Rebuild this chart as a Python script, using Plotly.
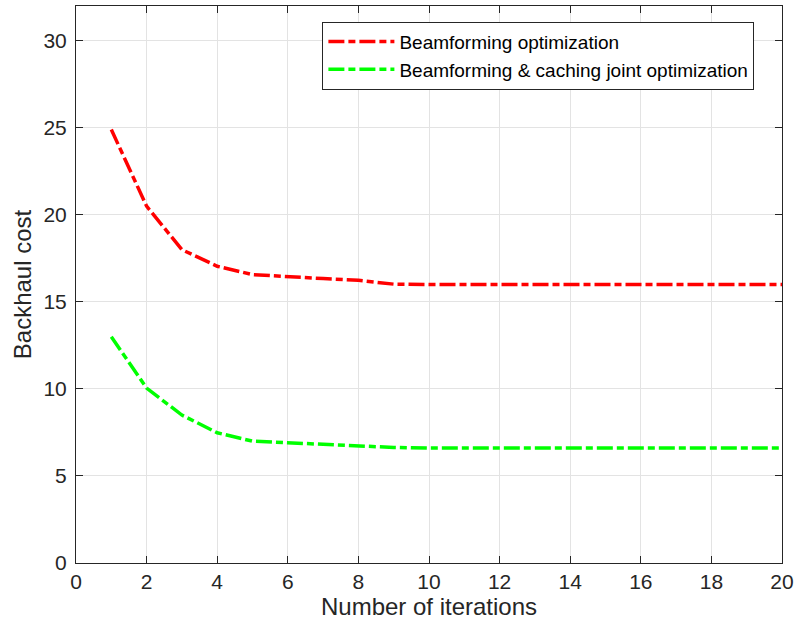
import plotly.graph_objects as go

iterations = list(range(1, 21))
beamforming = [24.9, 20.5, 18.0, 17.05, 16.57, 16.44, 16.34, 16.24, 16.02, 16.0,
               16.0, 16.0, 16.0, 16.0, 16.0, 16.0, 16.0, 16.0, 16.0, 16.0]
joint = [13.0, 10.05, 8.5, 7.48, 7.0, 6.9, 6.81, 6.71, 6.64, 6.6,
         6.6, 6.6, 6.6, 6.6, 6.6, 6.6, 6.6, 6.6, 6.6, 6.6]
names = ["Beamforming optimization", "Beamforming &amp; caching joint optimization"]
x_ticks = list(range(0, 21, 2))
y_ticks = list(range(0, 31, 5))

FONT = "Liberation Sans, Arial"
dash = "16px,4px,7px,4px"
fig = go.Figure()
fig.add_trace(go.Scatter(x=iterations, y=beamforming, mode="lines", name=names[0],
                         line=dict(color="#ff0000", width=3.5, dash=dash)))
fig.add_trace(go.Scatter(x=iterations, y=joint, mode="lines", name=names[1],
                         line=dict(color="#00ff00", width=3.5, dash=dash)))

axis_common = dict(showline=True, linecolor="#262626", linewidth=1, mirror="ticks",
                   ticks="inside", ticklen=7, tickcolor="#262626", showgrid=True,
                   gridcolor="#e3e3e3", gridwidth=1, zeroline=False, automargin=False,
                   tickfont=dict(family=FONT, size=21, color="#262626"))
fig.update_xaxes(range=[0, 20], tickvals=x_ticks, **axis_common,
                 title=dict(text="Number of iterations", standoff=4,
                            font=dict(family=FONT, size=24, color="#262626")))
fig.update_yaxes(range=[0, 32], tickvals=y_ticks, ticklabelstandoff=4, **axis_common,
                 title=dict(text="Backhaul cost", standoff=5,
                            font=dict(family=FONT, size=24, color="#262626")))
fig.update_layout(width=795, height=633, margin=dict(l=76, r=13, t=6, b=70),
                  plot_bgcolor="white", paper_bgcolor="white",
                  legend=dict(x=0.349, y=0.972, xanchor="left", yanchor="top",
                              bgcolor="white", bordercolor="#262626", borderwidth=1,
                              font=dict(family=FONT, size=19, color="#000000"),
                              itemwidth=66, tracegroupgap=0))
fig.write_html("out.html", config={"displayModeBar": False},
               post_script="document.body.style.margin='0';")
